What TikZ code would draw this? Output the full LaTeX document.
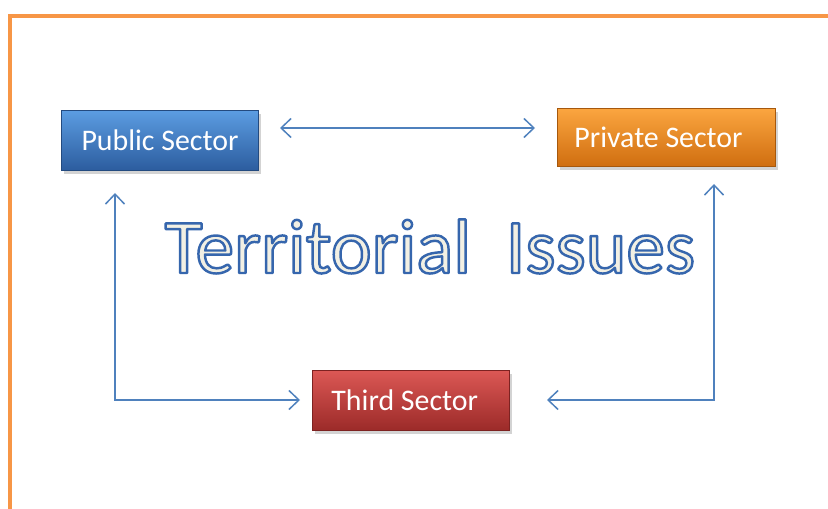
\documentclass[tikz,border=0pt]{standalone}
\usepackage{fontspec}
\setmainfont{Carlito}
\usetikzlibrary{arrows.meta,shadows}

\definecolor{frameorange}{HTML}{F79646}
\definecolor{linkblue}{HTML}{4F81BD}
\definecolor{titlefill}{HTML}{F2F0E4}
\definecolor{pubtop}{HTML}{5C9DE2}
\definecolor{pubmid}{HTML}{3F7DC9}
\definecolor{pubbot}{HTML}{2C5D9F}
\definecolor{pritop}{HTML}{FBA640}
\definecolor{primid}{HTML}{F48B1C}
\definecolor{pribot}{HTML}{D06E10}
\definecolor{thitop}{HTML}{DC5855}
\definecolor{thimid}{HTML}{C63D3A}
\definecolor{thibot}{HTML}{9C2B29}

% outlined glyphs: fill with the text colour, stroke in blue
\newcommand{\outlinedtext}[1]{%
  \special{pdf:literal direct 0.21 0.40 0.68 RG 1.4 w 1 j 2 Tr}#1%
  \special{pdf:literal direct 0 Tr}}

\tikzset{
  sectorbox/.style={minimum width=3.94cm, minimum height=1.2cm, text=white,
    font=\fontsize{17}{20}\selectfont, inner sep=0pt,
    drop shadow={opacity=0.35, shadow xshift=1.5pt, shadow yshift=-2pt}},
  publicbox/.style={sectorbox, draw=pubbot!80!black, top color=pubtop,
    middle color=pubmid, bottom color=pubbot},
  privatebox/.style={sectorbox, draw=pribot!80!black, top color=pritop,
    middle color=primid, bottom color=pribot},
  thirdbox/.style={sectorbox, draw=thibot!80!black, top color=thitop,
    middle color=thimid, bottom color=thibot},
  link/.style={draw=linkblue, line width=0.85pt,
    {Straight Barb[length=2mm,width=3.8mm]}-{Straight Barb[length=2mm,width=3.8mm]}}
}

\begin{document}
\begin{tikzpicture}[x=0.02cm, y=-0.02cm]
  \useasboundingbox (0,0) rectangle (828,509);

  % frame
  \draw[frameorange, line width=2.8pt] (10,509) -- (10,16) -- (828,16);

  % sectors
  \node[publicbox]  (public)  at (160,140) {Public Sector};
  \node[privatebox, minimum width=4.36cm, minimum height=1.16cm] (private) at (666,137) {Private Sector\kern0.3cm};
  \node[thirdbox]   (third)   at (411,400) {Third Sector\kern0.25cm};

  % title
  \node[anchor=base, text=titlefill, font=\fontsize{44}{48}\selectfont] (title) at (430,273)
    {\outlinedtext{Territorial\ \ Issues}};

  % links between sectors
  \coordinate (pubR) at (280,128);
  \coordinate (priL) at (535,128);
  \coordinate (pubB) at (115,193);
  \coordinate (priB) at (714,184);
  \coordinate (thiL) at (300,400);
  \coordinate (thiR) at (547,400);
  \draw[link] (pubR) -- (priL);
  \draw[link] (pubB) |- (thiL);
  \draw[link] (priB) |- (thiR);
\end{tikzpicture}
\end{document}
